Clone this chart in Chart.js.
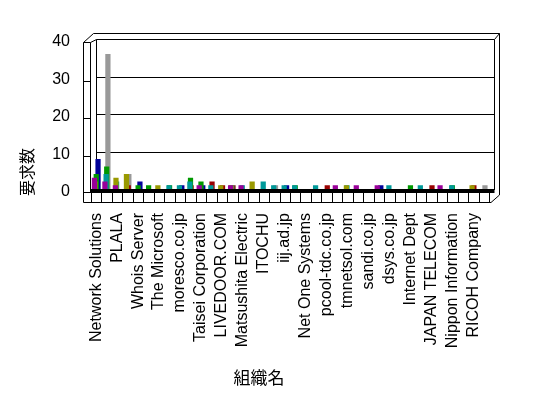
<!DOCTYPE html>
<html>
<head>
<meta charset="utf-8">
<script src="https://cdn.jsdelivr.net/npm/chart.js@4/dist/chart.umd.min.js"></script>
<style>
  html, body { margin: 0; background: #fff; }
</style>
</head>
<body>
<canvas id="myChart" width="548" height="398"></canvas>
<script>
// categories (only every other name is printed on the axis)
const organisations = [
  'Network Solutions', '', 'PLALA', '', 'Whois Server', '', 'The Microsoft', '',
  'moresco.co.jp', '', 'Taisei Corporation', '', 'LIVEDOOR.COM', '', 'Matsushita Electric', '',
  'ITOCHU', '', 'iij.ad.jp', '', 'Net One Systems', '', 'pcool-tdc.co.jp', '',
  'tmnetsol.com', '', 'sandi.co.jp', '', 'dsys.co.jp', '', 'Internet Dept', '',
  'JAPAN TELECOM', '', 'Nippon Information', '', 'RICOH Company', ''
];

// series, front to back
const seriesMagenta = [3,2,1,0,0,0,0,0,0,0,1,0,0,1,1,0,0,0,0,0,0,0,0,1,0,1,0,1,0,0,0,0,0,1,0,0,0,0];
const seriesOlive   = [2,0,3,4,0,0,1,0,0,0,0,0,1,1,0,2,0,0,0,0,0,0,0,0,1,0,0,0,0,0,0,0,0,0,0,0,1,0];
const seriesTeal    = [0,4,2,0,0,0,0,1,1,2,0,1,0,1,1,0,2,1,1,1,0,1,0,0,1,0,0,0,1,0,0,1,0,0,1,0,0,0];
const seriesGreen   = [4,6,0,0,1,1,0,1,0,3,2,0,0,0,0,0,0,0,0,1,0,0,0,0,0,0,0,0,0,0,1,0,0,0,1,0,0,0];
const seriesRed     = [0,0,0,1,0,0,0,0,0,1,0,2,1,1,0,0,0,0,0,0,0,0,1,0,0,0,0,0,0,0,0,0,1,0,0,0,1,0];
const seriesGray    = [0,36,0,4,0,0,0,0,0,0,0,0,0,0,0,0,0,1,0,0,0,0,0,0,0,0,0,0,0,0,0,0,0,0,0,0,0,1];
const seriesNavy    = [8,0,0,0,2,0,0,0,1,0,1,0,0,0,0,0,0,0,1,0,0,0,0,0,0,0,0,1,0,0,0,0,0,0,0,0,0,0];

const yTicks = [0, 10, 20, 30, 40];

const seriesList = [seriesMagenta, seriesOlive, seriesTeal, seriesGreen, seriesRed, seriesGray, seriesNavy];
const seriesColours = ['#990099', '#999900', '#009999', '#009900', '#990000', '#999999', '#000099'];

const FONT = '"Liberation Sans", Arial, sans-serif';
const CJK = '"Noto Sans CJK JP", sans-serif';

// shifts each series sideways a little to fake the depth of the 3D chart
const depthPlugin = {
  id: 'depth',
  beforeDatasetDraw(chart, args) {
    chart.ctx.save();
    chart.ctx.translate((args.index - 3) * 0.6, 0);
  },
  afterDatasetDraw(chart) {
    chart.ctx.restore();
  }
};

// walls, floor and the back grid
const framePlugin = {
  id: 'frame',
  beforeDatasetsDraw(chart) {
    const ctx = chart.ctx;
    const ca = chart.chartArea;
    const y = chart.scales.y;
    const line = (pts) => {
      ctx.beginPath();
      ctx.moveTo(pts[0][0], pts[0][1]);
      for (let i = 1; i < pts.length; i++) ctx.lineTo(pts[i][0], pts[i][1]);
      ctx.stroke();
    };
    ctx.save();
    ctx.strokeStyle = '#000';
    ctx.lineWidth = 1;

    // back wall grid
    yTicks.forEach(v => {
      const py = Math.round(y.getPixelForValue(v)) + 0.5;
      line([[ca.left + 5.5, py], [ca.right + 5.5, py]]);
      if (v > 0 && v < 40) line([[ca.left - 7.5, py + 4], [ca.left - 0.5, py + 4]]);
    });

    const L = ca.left - 7.5;   // front edge of left wall
    const Li = ca.left - 0.5;  // inner edge of left wall
    const B = ca.left + 5.5;   // back wall left
    const R = ca.right + 5.5;  // back wall right
    const Ro = ca.right + 10.5;
    const top = ca.top + 0.5;
    const bottom = ca.bottom;

    line([[L, top + 3], [L, bottom + 13.5], [ca.right + 2, bottom + 13.5], [Ro, bottom + 6], [Ro, top - 6], [L + 10, top - 6], [L, top + 3]]);
    line([[L, top + 3], [Li, top + 3], [B, top]]);
    line([[Li, top + 3], [Li, bottom + 3]]);
    line([[B, top], [B, bottom]]);
    line([[R, top], [R, bottom + 1]]);
    line([[Ro, top - 6], [R, top]]);

    // floor
    ctx.fillStyle = '#000';
    ctx.fillRect(ca.left, bottom, R - ca.left, 3);
    line([[L, bottom + 3.5], [R, bottom + 3.5]]);
    const step = (ca.right - ca.left) / organisations.length;
    for (let i = 0; i <= organisations.length; i++) {
      const px = Math.round(ca.left + i * step) + 0.5;
      line([[px, bottom + 3.5], [px, bottom + 13.5]]);
    }
    ctx.restore();
  },
  afterDraw(chart) {
    const ctx = chart.ctx;
    ctx.save();
    ctx.fillStyle = '#000';
    ctx.textAlign = 'center';
    ctx.textBaseline = 'middle';
    ctx.font = '17px ' + CJK;
    ctx.fillText('組織名', 259, 378);
    ctx.translate(27, 172);
    ctx.rotate(-Math.PI / 2);
    ctx.font = '16px ' + CJK;
    ctx.fillText('要求数', 0, 0);
    ctx.restore();
  }
};

const config = {
  type: 'bar',
  data: {
    labels: organisations,
    datasets: seriesList.map((d, i) => ({
      label: 'series ' + (i + 1),
      data: d,
      backgroundColor: seriesColours[i],
      borderWidth: 0
    }))
  },
  options: {
    responsive: false,
    animation: false,
    layout: { padding: { top: 39, right: 59, bottom: 0, left: 0 } },
    datasets: {
      bar: { grouped: false, barPercentage: 0.5, categoryPercentage: 1 }
    },
    plugins: {
      legend: { display: false },
      tooltip: { enabled: false }
    },
    scales: {
      x: {
        grid: { display: false, drawTicks: false },
        border: { display: false },
        ticks: {
          autoSkip: false,
          minRotation: 90,
          maxRotation: 90,
          padding: 24,
          color: '#000',
          font: { family: FONT, size: 16 }
        },
        afterFit: s => { s.height = 209; }
      },
      y: {
        min: 0,
        max: 40,
        grid: { display: false, drawTicks: false },
        border: { display: false },
        ticks: {
          stepSize: 10,
          padding: 21,
          labelOffset: 3,
          color: '#000',
          font: { family: FONT, size: 16 }
        },
        afterFit: s => { s.width = 91; }
      }
    }
  },
  plugins: [depthPlugin, framePlugin]
};

new Chart(document.getElementById('myChart').getContext('2d'), config);
</script>
</body>
</html>
